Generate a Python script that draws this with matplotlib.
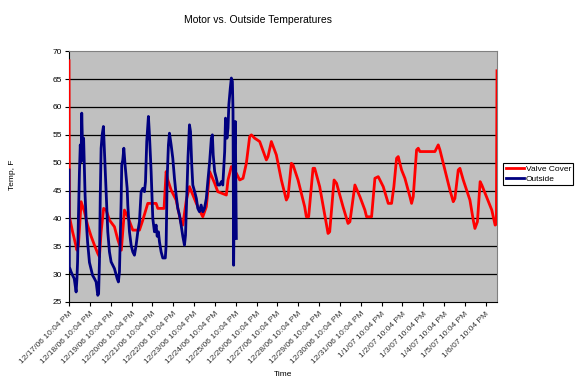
import matplotlib
matplotlib.use('Agg')
import matplotlib.pyplot as plt

plt.rcParams['font.family'] = ['Liberation Sans', 'DejaVu Sans']

# days after 12/17/06 10:04 PM
valve_days = [0.00, 0.005, 0.01, 0.015, 0.02, 0.17, 0.25, 0.38, 0.45, 0.50, 0.58,
              0.74, 0.89, 1.06, 1.22, 1.38, 1.46, 1.54, 1.66, 1.78, 1.94, 2.18,
              2.34, 2.51, 2.66, 2.82, 3.06, 3.38, 3.54, 3.78, 4.18, 4.26, 4.56,
              4.66, 4.74, 4.90, 5.14, 5.38, 5.46, 5.63, 5.78, 6.11, 6.26, 6.42,
              6.59, 6.75, 6.99, 7.14, 7.55, 7.63, 7.79, 8.03, 8.19, 8.35, 8.51,
              8.67, 8.75, 8.91, 9.15, 9.47, 9.55, 9.71, 9.95, 10.19, 10.43, 10.51,
              10.67, 10.75, 10.99, 11.31, 11.39, 11.50, 11.71, 11.79, 12.03, 12.36,
              12.43, 12.51, 12.72, 12.84, 13.15, 13.39, 13.48, 13.72, 13.96, 14.20,
              14.28, 14.52, 14.68, 14.84, 15.08, 15.32, 15.48, 15.59, 15.72, 15.80,
              15.96, 16.12, 16.36, 16.44, 16.52, 16.68, 16.76, 16.84, 17.56, 17.72,
              17.80, 18.04, 18.28, 18.44, 18.52, 18.68, 18.76, 18.92, 19.24, 19.40,
              19.48, 19.60, 19.73, 19.81, 19.97, 20.29, 20.45, 20.51, 20.54]
valve_temp = [68.3, 62.5, 54.0, 48.0, 40.3, 37.6, 36.4, 34.3, 35.2, 38.0, 43.0,
              41.2, 38.8, 36.8, 35.2, 33.7, 33.1, 37.6, 41.8, 41.5, 39.7, 38.5,
              36.2, 34.3, 41.5, 40.3, 37.9, 37.9, 39.7, 42.7, 42.7, 41.8, 41.8,
              48.4, 46.9, 45.1, 43.3, 39.1, 38.8, 43.3, 45.7, 42.7, 41.5, 40.3,
              42.1, 48.4, 46.3, 44.8, 44.2, 46.9, 49.3, 48.1, 46.9, 47.2, 49.9,
              54.7, 55.0, 54.4, 53.8, 50.5, 51.1, 53.8, 51.4, 46.9, 43.3, 43.9,
              49.9, 49.6, 46.9, 42.1, 40.3, 40.3, 49.0, 49.0, 45.7, 38.8,
              37.3, 37.6, 46.9, 46.3, 42.1, 39.1, 39.4, 46.0, 43.9, 41.5,
              40.3, 40.3, 47.2, 47.5, 45.7, 42.7, 42.7, 45.7, 50.8, 51.1,
              48.7, 47.2, 43.9, 42.7, 43.9, 52.3, 52.6, 52.0, 52.0, 53.2,
              52.3, 48.7, 45.1, 43.0, 43.6, 48.7, 49.0, 46.9, 43.3, 39.7,
              38.2, 39.4, 46.6, 46.0, 44.5, 41.5, 38.8, 39.0, 66.5]

outside_days = [0.00, 0.015, 0.10, 0.17, 0.25, 0.34, 0.38, 0.41, 0.45, 0.50, 0.54,
                0.58, 0.61, 0.65, 0.70, 0.77, 0.82, 0.89, 0.98, 1.13, 1.22, 1.30,
                1.38, 1.42, 1.46, 1.50, 1.54, 1.59, 1.65, 1.70, 1.78, 1.86, 1.94,
                2.02, 2.18, 2.31, 2.37, 2.42, 2.50, 2.53, 2.58, 2.63, 2.69, 2.79,
                2.82, 2.90, 2.98, 3.06, 3.14, 3.22, 3.30, 3.38, 3.46, 3.54, 3.62,
                3.67, 3.73, 3.81, 3.86, 3.94, 4.02, 4.10, 4.18, 4.23, 4.29, 4.34,
                4.42, 4.50, 4.62, 4.66, 4.71, 4.77, 4.82, 4.90, 4.98, 5.06, 5.14,
                5.22, 5.30, 5.38, 5.46, 5.54, 5.59, 5.66, 5.71, 5.78, 5.83, 5.89,
                5.94, 6.03, 6.11, 6.18, 6.26, 6.34, 6.42, 6.50, 6.59, 6.66, 6.75,
                6.83, 6.88, 6.92, 6.99, 7.07, 7.14, 7.23, 7.31, 7.38, 7.47, 7.51,
                7.58, 7.63, 7.67, 7.74, 7.79, 7.84, 7.87, 7.90, 7.95, 7.98, 8.03]
outside_temp = [48.7, 31.3, 30.4, 29.8, 29.2, 26.8, 29.2, 32.2, 40.0, 48.4, 53.2,
                50.2, 58.9, 52.6, 54.4, 44.2, 40.0, 35.8, 32.1, 29.8, 29.2, 28.6,
                26.2, 26.5, 32.2, 44.2, 52.6, 55.0, 56.5, 52.0, 44.8, 37.6, 34.0,
                32.2, 31.0, 29.2, 28.6, 30.4, 43.0, 49.6, 50.5, 52.6, 49.6, 45.4,
                42.4, 37.6, 35.2, 34.0, 33.4, 35.2, 37.6, 39.4, 44.8, 45.4, 44.8,
                46.6, 53.8, 58.3, 55.0, 48.4, 40.0, 37.6, 38.8, 36.8, 37.6, 35.8,
                34.0, 32.9, 32.9, 35.2, 47.2, 53.2, 55.3, 53.2, 50.8, 47.2, 44.2,
                41.8, 40.6, 38.8, 36.8, 35.2, 37.0, 45.0, 51.0, 56.8, 55.6, 49.6,
                46.0, 44.8, 43.6, 41.8, 41.2, 42.4, 41.2, 41.8, 43.6, 46.6, 50.2,
                54.4, 55.0, 51.4, 48.4, 47.2, 46.0, 46.0, 46.6, 46.0, 52.0, 58.0,
                54.4, 56.2, 60.4, 63.4, 65.2, 64.6, 59.2, 31.6, 53.2, 57.4, 36.4]

tick_labels = ['12/17/06 10:04 PM', '12/18/06 10:04 PM', '12/19/06 10:04 PM',
               '12/20/06 10:04 PM', '12/21/06 10:04 PM', '12/22/06 10:04 PM',
               '12/23/06 10:04 PM', '12/24/06 10:04 PM', '12/25/06 10:04 PM',
               '12/26/06 10:04 PM', '12/27/06 10:04 PM', '12/28/06 10:04 PM',
               '12/29/06 10:04 PM', '12/30/06 10:04 PM', '12/31/06 10:04 PM',
               '1/1/07 10:04 PM', '1/2/07 10:04 PM', '1/3/07 10:04 PM',
               '1/4/07 10:04 PM', '1/5/07 10:04 PM', '1/6/07 10:04 PM']


def main():
    fig = plt.figure(figsize=(5.83, 3.85), dpi=100)
    ax = fig.add_axes([0.1184, 0.2156, 0.8525 - 0.1184, 0.8668 - 0.2156])
    ax.set_facecolor('#c0c0c0')

    ax.plot(valve_days, valve_temp, color='#ff0000', lw=2.0, label='Valve Cover', zorder=3)
    ax.plot(outside_days, outside_temp, color='#000080', lw=2.0, label='Outside', zorder=4)

    ax.set_xlim(0, 20.54)
    ax.set_ylim(25, 70)
    ax.set_yticks(range(25, 71, 5))
    ax.set_xticks(range(len(tick_labels)))
    ax.set_xticklabels(tick_labels, rotation=45, ha='right', rotation_mode='anchor',
                       fontsize=6, color='#333333')
    ax.tick_params(axis='y', labelsize=6, length=3, width=0.8, direction='out', pad=2)
    ax.tick_params(axis='x', length=3, width=0.8, direction='out', pad=3)

    for v in range(30, 70, 5):
        ax.axhline(v, color='black', lw=0.9, zorder=1)

    ax.spines['top'].set_color('#808080')
    ax.spines['right'].set_color('#808080')
    ax.spines['left'].set_color('black')
    ax.spines['bottom'].set_color('black')
    for s in ax.spines.values():
        s.set_linewidth(0.8)

    fig.text(258 / 583, 1 - 20 / 385, 'Motor vs. Outside Temperatures',
             ha='center', va='center', fontsize=7.5)
    fig.text(12 / 583, 1 - 175 / 385, 'Temp, F', rotation=90,
             ha='center', va='center', fontsize=6)
    fig.text(283 / 583, 1 - 375 / 385, 'Time', ha='center', va='center', fontsize=6)

    leg = ax.legend(loc='center left', bbox_to_anchor=(503 / 583, 1 - 174 / 385),
                    bbox_transform=fig.transFigure, fontsize=6, frameon=True,
                    fancybox=False, framealpha=1, edgecolor='black',
                    handlelength=2.2, handletextpad=0.2, borderpad=0.3,
                    labelspacing=0.2, borderaxespad=0)
    leg.get_frame().set_linewidth(0.8)

    fig.savefig('out.png', dpi=100)


if __name__ == "__main__":
    main()
